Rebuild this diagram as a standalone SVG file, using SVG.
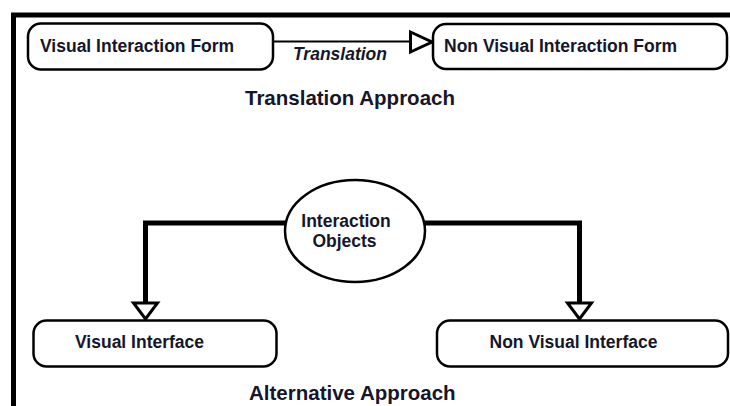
<svg xmlns="http://www.w3.org/2000/svg" width="730" height="406" viewBox="0 0 730 406">
  <style>
    .box { fill: #ffffff; stroke: #000000; stroke-width: 2.5; }
    .lbl { font-family: "Liberation Sans", Arial, sans-serif; font-weight: bold; font-size: 17.5px; fill: #16162a; }
    .title { font-family: "Liberation Sans", Arial, sans-serif; font-weight: bold; font-size: 20.5px; fill: #16162a; }
    .ital { font-style: italic; }
    .thin { fill: none; stroke: #000000; stroke-width: 2; }
    .thick { fill: none; stroke: #000000; stroke-width: 5; stroke-linejoin: miter; }
    .head { fill: #ffffff; stroke: #000000; stroke-width: 3; stroke-linejoin: miter; }
  </style>
  <rect x="0" y="0" width="730" height="406" fill="#ffffff"/>
  <path d="M13.5,406 V15 H730" fill="none" stroke="#000000" stroke-width="5"/>

  <g id="connectors">
    <g id="edge-translation">
      <line class="thin" x1="273" y1="41.5" x2="411" y2="41.5"/>
      <polygon class="head" points="410.5,32 432,42 410.5,52"/>
      <text class="lbl ital" x="293" y="59.5">Translation</text>
    </g>
    <g id="edge-to-visual">
      <path class="thick" d="M285,223 H145.5 V303"/>
      <polygon class="head" points="133.5,303 157.5,303 145.5,319"/>
    </g>
    <g id="edge-to-nonvisual">
      <path class="thick" d="M425,223 H579.5 V303"/>
      <polygon class="head" points="567.5,303 591.5,303 579.5,319"/>
    </g>
  </g>

  <g id="node-visual-interaction-form">
    <rect class="box" x="28" y="23.5" width="245" height="46" rx="13"/>
    <text class="lbl" x="40" y="51.5">Visual Interaction Form</text>
  </g>
  <g id="node-non-visual-interaction-form">
    <rect class="box" x="433" y="24" width="294" height="45" rx="13"/>
    <text class="lbl" x="444" y="51.5">Non Visual Interaction Form</text>
  </g>
  <text class="title" x="245" y="105">Translation Approach</text>

  <g id="node-interaction-objects">
    <ellipse class="box" cx="355" cy="231" rx="70" ry="51"/>
    <text class="lbl" x="346" y="226.5" text-anchor="middle">Interaction</text>
    <text class="lbl" x="344.5" y="246.5" text-anchor="middle">Objects</text>
  </g>

  <g id="node-visual-interface">
    <rect class="box" x="33.5" y="320.5" width="243" height="46" rx="13"/>
    <text class="lbl" x="75" y="347.5">Visual Interface</text>
  </g>
  <g id="node-non-visual-interface">
    <rect class="box" x="437" y="320.5" width="291" height="46" rx="13"/>
    <text class="lbl" x="489.5" y="347.5">Non Visual Interface</text>
  </g>
  <text class="title" x="249" y="400">Alternative Approach</text>
</svg>
